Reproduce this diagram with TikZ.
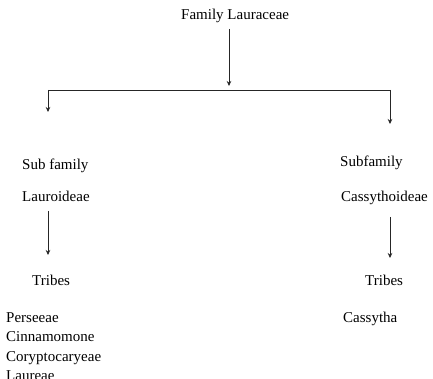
\documentclass[tikz,border=0pt]{standalone}
\usepackage{fontspec}
\setmainfont{Liberation Serif}
\usetikzlibrary{arrows.meta}
\begin{document}
\begin{tikzpicture}[x=1pt,y=-1pt,
  lbl/.style={anchor=base west,inner sep=0pt,font=\fontsize{15}{18}\selectfont},
  conn/.style={line width=0.6pt,black!85},
  arr/.style={conn,-{Stealth[length=5pt,width=4.5pt]}}]
\useasboundingbox (0,0) rectangle (433,379);
\node[lbl] (fam) at (181,20) {Family Lauraceae};
\node[lbl] (sub1) at (22,170) {Sub family};
\node[lbl] (lau) at (22,202) {Lauroideae};
\node[lbl] (tr1) at (32,285) {Tribes};
\node[lbl] (t1) at (6,322) {Perseeae};
\node[lbl] (t2) at (6,341) {Cinnamomone};
\node[lbl] (t3) at (6,361) {Coryptocaryeae};
\node[lbl] (t4) at (6,380) {Laureae};
\node[lbl] (sub2) at (340,167) {Subfamily};
\node[lbl] (cas) at (341,201) {Cassythoideae};
\node[lbl] (tr2) at (365,285) {Tribes};
\node[lbl] (ct) at (343,322) {Cassytha};
\coordinate (fa) at (229,29);
\coordinate (fb) at (229,86);
\coordinate (hl) at (48,90);
\coordinate (hr) at (390,90);
\coordinate (ld) at (48,112);
\coordinate (rd) at (390,124);
\coordinate (la) at (48,211);
\coordinate (lb) at (48,255);
\coordinate (ra) at (390,217);
\coordinate (rb) at (390,258);
\draw[arr] (fa) -- (fb);
\draw[conn] (hl) -- (hr);
\draw[arr] (hl) -- (ld);
\draw[arr] (hr) -- (rd);
\draw[arr] (la) -- (lb);
\draw[arr] (ra) -- (rb);
\end{tikzpicture}
\end{document}
